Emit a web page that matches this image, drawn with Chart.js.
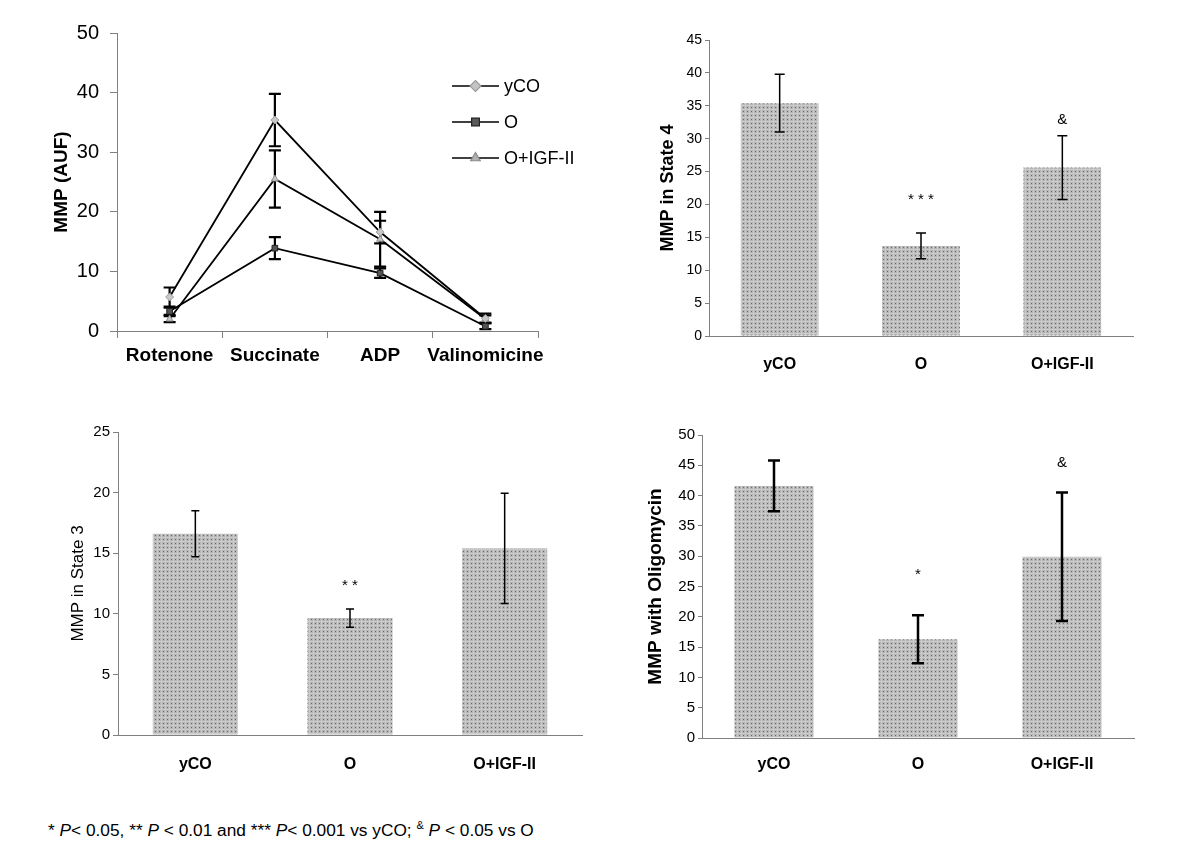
<!DOCTYPE html>
<html>
<head>
<meta charset="utf-8">
<script src="https://cdn.jsdelivr.net/npm/chart.js@4.4.0/dist/chart.umd.min.js"></script>
<style>
  body { margin: 0; background: #fff; width: 1200px; height: 855px; position: relative; overflow: hidden; }
  canvas { position: absolute; }
  #note { position: absolute; left: 48px; top: 819px; font: 17.3px 'Liberation Sans', Arial, sans-serif; color: #000; white-space: nowrap; }
  #note sup { font-size: 11px; }
</style>
</head>
<body>
<canvas id="lineChart" width="600" height="420" style="left:0;top:0"></canvas>
<canvas id="state4Chart" width="600" height="420" style="left:600px;top:0"></canvas>
<canvas id="state3Chart" width="600" height="380" style="left:0;top:420px"></canvas>
<canvas id="oligoChart" width="600" height="380" style="left:600px;top:420px"></canvas>
<div id="note">* <i>P</i>&lt; 0.05, ** <i>P</i> &lt; 0.01 and *** <i>P</i>&lt; 0.001 vs yCO; <sup>&amp;</sup> <i>P</i> &lt; 0.05 vs O</div>

<script>
// data
const substrates = ['Rotenone', 'Succinate', 'ADP', 'Valinomicine'];
const groups = ['yCO', 'O', 'O+IGF-II'];

const lineYCO = [5.7, 35.4, 16.6, 2.1];
const lineYCOErr = [1.6, 4.4, 1.9, 0.8];
const lineO = [3.3, 13.9, 9.7, 0.8];
const lineOErr = [0.6, 1.85, 0.8, 0.5];
const lineIGF = [2.0, 25.5, 15.4, 2.0];
const lineIGFErr = [0.5, 4.8, 4.6, 0.6];

const state4 = [35.4, 13.7, 25.6];
const state4Err = [4.4, 1.95, 4.85];
const state4Marks = ['', '* * *', '&'];
const state4MarkAt = [null, 20.7, 32.9];

const state3 = [16.6, 9.65, 15.4];
const state3Err = [1.9, 0.75, 4.55];
const state3Marks = ['', '* *', ''];
const state3MarkAt = [null, 12.3, null];

const oligo = [41.6, 16.3, 29.9];
const oligoErr = [4.2, 3.95, 10.6];
const oligoMarks = ['', '*', '&'];
const oligoMarkAt = [null, 26.9, 45.4];

const arial = "'Liberation Sans', Arial, sans-serif";
const axisGray = '#808080';

Chart.defaults.font.family = arial;
Chart.defaults.color = '#000';
Chart.defaults.animation = false;

function dotPattern() {
    const c = document.createElement('canvas');
    c.width = 4; c.height = 4;
    const g = c.getContext('2d');
    g.fillStyle = '#b4b4b4'; g.fillRect(0, 0, 4, 4);
    g.fillStyle = '#cbcbcb'; g.fillRect(0, 1, 4, 1); g.fillRect(1, 0, 1, 4);
    g.fillStyle = '#6a6a6a'; g.fillRect(3, 3, 1, 1);
    return g.createPattern(c, 'repeat');
}

// vertical +/- error bars with caps
const errorBars = {
    id: 'errorBars',
    beforeDatasetsDraw(chart, args, opts) { if (opts.before) this.paint(chart, opts); },
    afterDatasetsDraw(chart, args, opts) { if (!opts.before) this.paint(chart, opts); },
    paint(chart, opts) {
        const ctx = chart.ctx, y = chart.scales.y;
        chart.data.datasets.forEach((ds, di) => {
            if (!ds.errors) return;
            const meta = chart.getDatasetMeta(di);
            ctx.save();
            ctx.strokeStyle = '#000';
            ctx.lineWidth = opts.width || 1.5;
            meta.data.forEach((el, i) => {
                const v = ds.data[i], e = ds.errors[i];
                const top = y.getPixelForValue(v + e), bot = y.getPixelForValue(v - e);
                const c = opts.cap || 5;
                ctx.beginPath();
                ctx.moveTo(el.x, top); ctx.lineTo(el.x, bot);
                ctx.moveTo(el.x - c, top); ctx.lineTo(el.x + c, top);
                ctx.moveTo(el.x - c, bot); ctx.lineTo(el.x + c, bot);
                ctx.stroke();
            });
            ctx.restore();
        });
    }
};

// significance signs above the bars
const sigMarks = {
    id: 'sigMarks',
    afterDatasetsDraw(chart, args, opts) {
        if (!opts.texts) return;
        const ctx = chart.ctx, meta = chart.getDatasetMeta(0);
        ctx.save();
        ctx.font = opts.font || '14px ' + arial;
        ctx.fillStyle = '#000';
        ctx.textAlign = 'center';
        ctx.textBaseline = 'middle';
        opts.texts.forEach((t, i) => {
            if (!t) return;
            ctx.fillText(t, meta.data[i].x, chart.scales.y.getPixelForValue(opts.at[i]));
        });
        ctx.restore();
    }
};

// legend inside the plot of the line chart
const lineLegend = {
    id: 'lineLegend',
    afterDraw(chart, args, opts) {
        if (!opts.show) return;
        const ctx = chart.ctx;
        ctx.save();
        chart.data.datasets.forEach((ds, i) => {
            const y = opts.y + i * opts.gap;
            ctx.strokeStyle = '#000';
            ctx.lineWidth = 1.5;
            ctx.beginPath(); ctx.moveTo(opts.x, y); ctx.lineTo(opts.x + opts.len, y); ctx.stroke();
            ctx.fillStyle = ds.legendFill;
            ctx.strokeStyle = ds.pointBorderColor;
            ctx.lineWidth = 1.2;
            Chart.helpers.drawPoint(ctx, { pointStyle: ds.pointStyle, radius: 5.5, rotation: 0, borderWidth: 1.2 }, opts.x + opts.len / 2, y);
            ctx.fillStyle = '#000';
            ctx.font = '18px ' + arial;
            ctx.textBaseline = 'middle';
            ctx.fillText(ds.label, opts.x + opts.len + 5, y + 1);
        });
        ctx.restore();
    }
};

Chart.register(errorBars, sigMarks, lineLegend);

function fixWidth(w) { return function(scale) { scale.width = w; }; }
function fixHeight(h) { return function(scale) { scale.height = h; }; }

// top left: line chart
new Chart(document.getElementById('lineChart'), {
    type: 'line',
    data: {
        labels: substrates,
        datasets: [
            { label: 'yCO', data: lineYCO, errors: lineYCOErr, pointStyle: 'rectRot', legendFill: '#c4c4c4',
              pointBackgroundColor: '#c8c8c8', pointBorderColor: '#9a9a9a' },
            { label: 'O', data: lineO, errors: lineOErr, pointStyle: 'rect', legendFill: '#5a5a5a',
              pointBackgroundColor: '#555', pointBorderColor: '#222' },
            { label: 'O+IGF-II', data: lineIGF, errors: lineIGFErr, pointStyle: 'triangle', legendFill: '#b0b0b0',
              pointBackgroundColor: '#c8c8c8', pointBorderColor: '#8a8a8a' }
        ].map(d => Object.assign(d, { borderColor: '#000', borderWidth: 1.8, pointRadius: 4, pointBorderWidth: 1, tension: 0 }))
    },
    options: {
        responsive: false,
        layout: { padding: { left: 0, top: 33, right: 62, bottom: 0 } },
        plugins: {
            legend: { display: false },
            tooltip: { enabled: false },
            errorBars: { before: true, width: 2.2, cap: 6 },
            lineLegend: { show: true, x: 452, y: 86, gap: 36, len: 47 }
        },
        scales: {
            x: {
                offset: true,
                afterFit: fixHeight(89),
                grid: { offset: true, drawOnChartArea: false, drawTicks: true, tickLength: 7, color: axisGray },
                border: { color: axisGray },
                ticks: { font: { size: 19, weight: 'bold' }, padding: 6, maxRotation: 0, autoSkip: false }
            },
            y: {
                min: 0, max: 50,
                afterFit: fixWidth(117),
                grid: { drawOnChartArea: false, tickLength: 7, color: axisGray },
                border: { color: axisGray },
                ticks: { stepSize: 10, font: { size: 20 }, padding: 11 },
                title: { display: true, text: 'MMP (AUF)', font: { size: 19, weight: 'bold' }, padding: { top: 50, bottom: 0 } }
            }
        }
    }
});

function barChart(id, values, errors, cfg) {
    return new Chart(document.getElementById(id), {
        type: 'bar',
        data: {
            labels: groups,
            datasets: [{ data: values, errors: errors, backgroundColor: dotPattern(), borderWidth: 0,
                         barPercentage: 0.55, categoryPercentage: 1 }]
        },
        options: {
            responsive: false,
            layout: { padding: { left: 0, top: cfg.top, right: cfg.right, bottom: 0 } },
            plugins: {
                legend: { display: false },
                tooltip: { enabled: false },
                errorBars: { width: cfg.errWidth, cap: cfg.cap },
                sigMarks: { texts: cfg.marks, at: cfg.markAt, font: '15px ' + arial }
            },
            scales: {
                x: {
                    afterFit: fixHeight(cfg.xh),
                    grid: { drawOnChartArea: false, drawTicks: false, color: axisGray },
                    border: { color: axisGray },
                    ticks: { font: { size: 16, weight: 'bold' }, padding: cfg.xPad, maxRotation: 0, autoSkip: false }
                },
                y: {
                    min: 0, max: cfg.max,
                    afterFit: fixWidth(cfg.yw),
                    grid: { drawOnChartArea: false, tickLength: cfg.tick, color: axisGray },
                    border: { color: axisGray },
                    ticks: { stepSize: 5, font: { size: cfg.tickSize }, padding: 3 },
                    title: { display: true, text: cfg.title, font: { size: cfg.titleSize, weight: cfg.titleWeight },
                             padding: { top: cfg.titlePad, bottom: 0 } }
                }
            }
        }
    });
}

barChart('state4Chart', state4, state4Err, {
    top: 40, right: 67, xh: 84, yw: 109, max: 45, tick: 4, tickSize: 14, xPad: 19,
    title: 'MMP in State 4', titleSize: 18, titleWeight: 'bold', titlePad: 57,
    errWidth: 1.5, cap: 5, marks: state4Marks, markAt: state4MarkAt
});

barChart('state3Chart', state3, state3Err, {
    top: 12, right: 18, xh: 65, yw: 118, max: 25, tick: 5, tickSize: 15, xPad: 20,
    title: 'MMP in State 3', titleSize: 17, titleWeight: 'normal', titlePad: 68,
    errWidth: 1.5, cap: 4, marks: state3Marks, markAt: state3MarkAt
});

barChart('oligoChart', oligo, oligoErr, {
    top: 15, right: 66, xh: 62, yw: 102, max: 50, tick: 4, tickSize: 15, xPad: 17,
    title: 'MMP with Oligomycin', titleSize: 19, titleWeight: 'bold', titlePad: 44,
    errWidth: 2.5, cap: 6, marks: oligoMarks, markAt: oligoMarkAt
});
</script>
</body>
</html>
